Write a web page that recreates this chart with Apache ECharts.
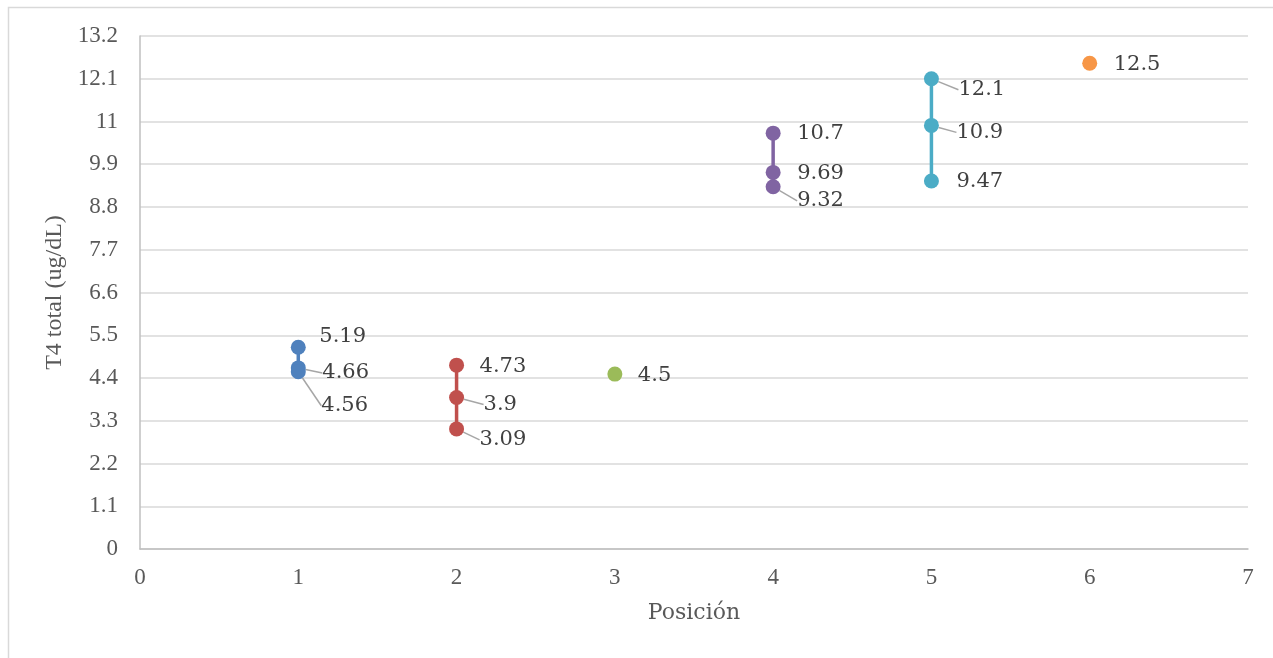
<!DOCTYPE html>
<html><head><meta charset="utf-8">
<script src="https://cdn.jsdelivr.net/npm/echarts@6/dist/echarts.min.js"></script>
<style>html,body{margin:0;padding:0;background:#fff}#c{width:1273px;height:658px}</style>
</head><body><div id="c"></div>
<script>
const positions = [1, 2, 3, 4, 5, 6];
const s1 = [5.19, 4.66, 4.56];
const s2 = [4.73, 3.9, 3.09];
const s3 = [4.5];
const s4 = [10.7, 9.69, 9.32];
const s5 = [12.1, 10.9, 9.47];
const s6 = [12.5];
const seriesValues = [s1, s2, s3, s4, s5, s6];
const colors = ['#4F81BD', '#C0504D', '#9BBB59', '#8064A2', '#4BACC6', '#F79646'];
const yTicks = [0, 1.1, 2.2, 3.3, 4.4, 5.5, 6.6, 7.7, 8.8, 9.9, 11, 12.1, 13.2];

// label offsets (style only): [dx, dy, showLeader]
const labelOffsets = [
  [[21, -11, false], [24, 5, true], [23, 34, true]],
  [[23, 1, false], [27, 7, true], [23, 11, true]],
  [[23, 1, false]],
  [[24, 0, false], [24, 1, false], [24, 14, true]],
  [[27, 11, true], [25, 7, true], [25, 1, false]],
  [[24, 1, false]]
];

const tfont = '"Liberation Serif", serif';
const cfont = '"DejaVu Serif", serif';

const series = seriesValues.map((vals, si) => ({
  type: 'line',
  data: vals.map((v, i) => ({
    value: [positions[si], v],
    labelLine: { show: labelOffsets[si][i][2] }
  })),
  symbol: 'circle',
  symbolSize: 15,
  lineStyle: { width: 3.5, color: colors[si] },
  itemStyle: { color: colors[si] },
  label: {
    show: true,
    position: 'inside',
    formatter: p => String(p.value[1]),
    fontFamily: cfont,
    fontSize: 21,
    color: '#404040',
    align: 'left',
    verticalAlign: 'middle'
  },
  labelLine: { show: true, lineStyle: { color: '#a6a6a6', width: 1.5 } },
  labelLayout: function (p) {
    const o = labelOffsets[si][p.dataIndex];
    return { dx: o[0], dy: o[1] };
  },
  emphasis: { disabled: true },
  animation: false
}));

const chart = echarts.init(document.getElementById('c'));
chart.setOption({
  animation: false,
  grid: { left: 140, right: 25, top: 36, bottom: 109 },
  graphic: [{
    type: 'rect', shape: { x: 8.5, y: 7.5, width: 1400, height: 800 },
    style: { fill: 'none', stroke: '#d9d9d9', lineWidth: 1.5 }, silent: true
  }],
  xAxis: {
    type: 'value', min: 0, max: 7, interval: 1,
    name: 'Posición', nameLocation: 'middle', nameGap: 53,
    nameTextStyle: { fontFamily: cfont, fontSize: 22, color: '#595959' },
    axisLine: { lineStyle: { color: '#bfbfbf', width: 1.5 } },
    axisTick: { show: false },
    splitLine: { show: false },
    axisLabel: { fontFamily: tfont, fontSize: 23, color: '#595959', margin: 17 }
  },
  yAxis: {
    type: 'value', min: 0, max: 13.2, interval: 1.1,
    name: 'T4 total (ug/dL)', nameLocation: 'middle', nameGap: 73,
    nameTextStyle: { fontFamily: tfont, fontSize: 24, color: '#595959' },
    axisLine: { show: true, lineStyle: { color: '#bfbfbf', width: 1.5 } },
    axisTick: { show: false },
    splitLine: { lineStyle: { color: '#d9d9d9', width: 1.5 } },
    axisLabel: {
      fontFamily: tfont, fontSize: 23, color: '#595959', margin: 22,
      formatter: v => { const m = yTicks.find(t => Math.abs(t - v) < 1e-6); return m === undefined ? '' : String(m); }
    }
  },
  series: series
});
</script></body></html>
